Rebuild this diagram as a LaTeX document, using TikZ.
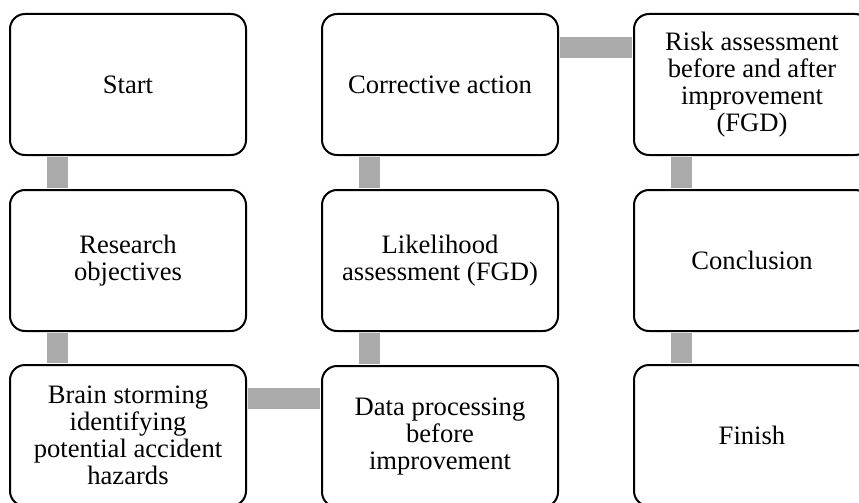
\documentclass[tikz,border=0pt]{standalone}
\usepackage{fontspec}
\setmainfont{Liberation Serif}
\begin{document}
\begin{tikzpicture}[x=1pt,y=-1pt,
  stepbox/.style={draw=black, line width=2pt, rounded corners=15pt, fill=white,
    minimum width=236pt, minimum height=141pt, inner sep=0pt, align=center,
    font=\fontsize{26.6}{27}\selectfont},
  conn/.style={draw={rgb,255:red,170;green,170;blue,170}, line width=21pt}]
\useasboundingbox (0,0) rectangle (859,503);
\clip (0,0) rectangle (859,503);
\node[stepbox] (start) at (128,84.5) {Start};
\node[stepbox] (obj) at (128,260.5) {Research\\objectives};
\node[stepbox] (brain) at (128,435.5) {Brain storming\\identifying\\potential accident\\hazards};
\node[stepbox] (data) at (440,436.5) {Data processing\\before\\improvement};
\node[stepbox] (like) at (440,260.5) {Likelihood\\assessment (FGD)};
\node[stepbox] (corr) at (440,84.5) {Corrective action};
\node[stepbox] (risk) at (752,84.5) {Risk assessment\\before and after\\improvement\\(FGD)};
\node[stepbox] (concl) at (752,260.5) {Conclusion};
\node[stepbox] (fin) at (752,435.5) {Finish};
\draw[conn] ([xshift=48.5pt,yshift=-1pt]start.south west) -- ([xshift=48.5pt,yshift=1pt]obj.north west);
\draw[conn] ([xshift=48.5pt,yshift=-1pt]obj.south west) -- ([xshift=48.5pt,yshift=1pt]brain.north west);
\draw[conn] ([yshift=-34.5pt,xshift=1pt]brain.north east) -- ([yshift=-33.5pt,xshift=-1pt]data.north west);
\draw[conn] ([xshift=48.5pt,yshift=1pt]data.north west) -- ([xshift=48.5pt,yshift=-1pt]like.south west);
\draw[conn] ([xshift=48.5pt,yshift=1pt]like.north west) -- ([xshift=48.5pt,yshift=-1pt]corr.south west);
\draw[conn] ([yshift=-34.5pt,xshift=1pt]corr.north east) -- ([yshift=-34.5pt,xshift=-1pt]risk.north west);
\draw[conn] ([xshift=48.5pt,yshift=-1pt]risk.south west) -- ([xshift=48.5pt,yshift=1pt]concl.north west);
\draw[conn] ([xshift=48.5pt,yshift=-1pt]concl.south west) -- ([xshift=48.5pt,yshift=1pt]fin.north west);
\end{tikzpicture}
\end{document}
